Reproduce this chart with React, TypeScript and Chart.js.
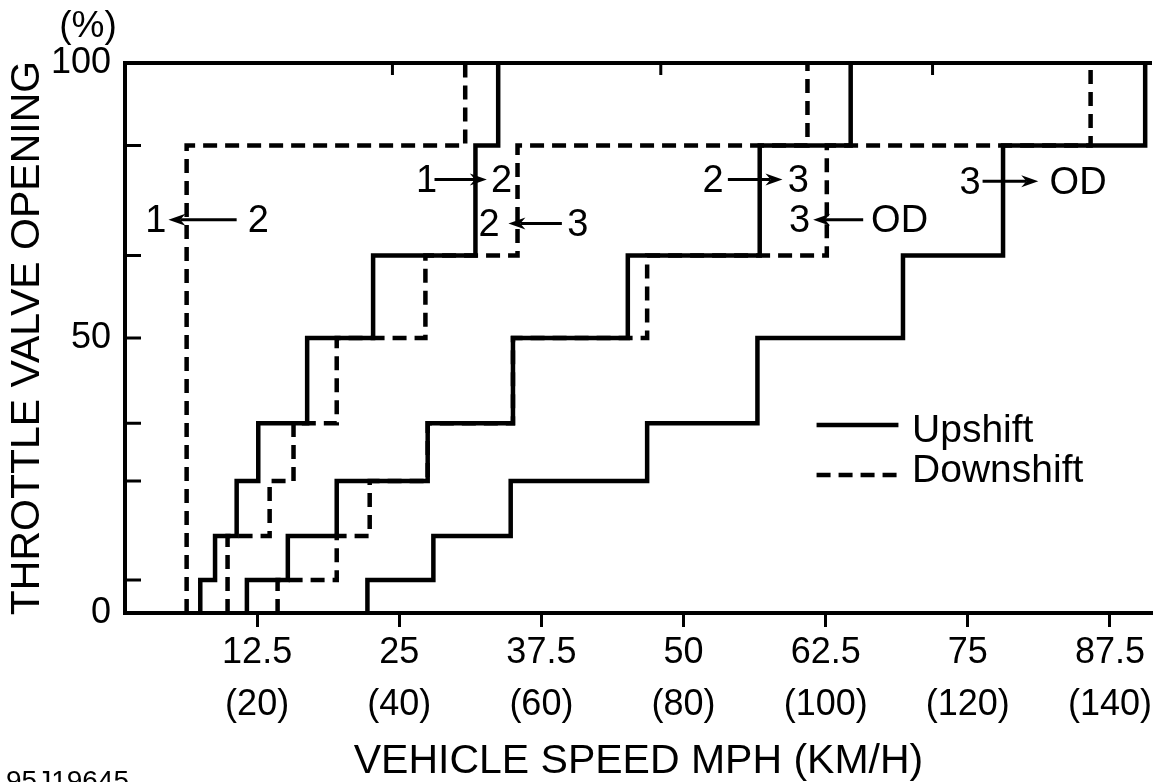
import React, { useEffect, useRef } from "react";
import { Chart, registerables } from "chart.js";

Chart.register(...registerables);

// ---- axis data ----
const speedTicks = [12.5, 25, 37.5, 50, 62.5, 75, 87.5];
const kmhTicks = [20, 40, 60, 80, 100, 120, 140];
const throttleTicks = [0, 50, 100];
const throttleMarks = [6, 24, 34.5, 50, 65, 85];
const topSpeedMarks = [24.4, 48, 71.9];

// ---- shift curves: vertical step at speeds[i] between levels[i] and levels[i+1] ----
const up12Speeds = [7.5, 8.8, 10.7, 12.6, 16.9, 22.7, 31.7, 33.7];
const up12Levels = [0, 6, 14, 24, 34.5, 50, 65, 85, 100];

const down21Speeds = [6.3, 30.8];
const down21Levels = [0, 85, 100];

const up23Speeds = [11.6, 15.2, 19.5, 27.5, 35.0, 45.1, 56.7, 64.7];
const up23Levels = [0, 6, 14, 24, 34.5, 50, 65, 85, 100];

const down32Speeds = [9.9, 13.6, 15.7, 19.5, 27.3, 35.4, 60.9];
const down32Levels = [0, 14, 24, 34.5, 50, 65, 85, 100];

const up3odSpeeds = [22.2, 28.0, 34.8, 46.8, 56.5, 69.3, 78.1, 90.6];
const up3odLevels = [0, 6, 14, 24, 34.5, 50, 65, 85, 100];

const downOd3Speeds = [14.3, 19.5, 22.4, 27.5, 35.0, 46.8, 62.6, 85.8];
const downOd3Levels = [0, 6, 14, 24, 34.5, 50, 65, 85, 100];

// ---- shift annotations (speed, throttle) ----
const shiftLabels = [
  { left: "1", right: "2", leftX: 3.6, rightX: 12.6, tailX: 10.7, tipX: 4.7, y: 71.5 },
  { left: "1", right: "2", leftX: 27.4, rightX: 34.0, tailX: 28.1, tipX: 32.7, y: 78.8 },
  { left: "2", right: "3", leftX: 32.9, rightX: 40.7, tailX: 39.3, tipX: 34.6, y: 70.8 },
  { left: "2", right: "3", leftX: 52.6, rightX: 60.1, tailX: 53.9, tipX: 58.7, y: 78.8 },
  { left: "3", right: "OD", leftX: 60.2, rightX: 69.0, tailX: 65.8, tipX: 61.4, y: 71.5 },
  { left: "3", right: "OD", leftX: 75.2, rightX: 84.7, tailX: 76.3, tipX: 81.2, y: 78.5 },
];

const legendItems = [
  { label: "Upshift", dash: [] as number[], lineY: 34.2, textY: 33.1 },
  { label: "Downshift", dash: [14, 8], lineY: 25.1, textY: 25.8 },
];
const legendLineX = [61.7, 68.9];
const legendTextX = 70.1;

const FONT = "'Liberation Sans', Arial, Helvetica, sans-serif";
const SOLID: number[] = [];
const DASH = [14, 8];

function stepPoints(speeds: number[], levels: number[]) {
  const pts: { x: number; y: number }[] = [];
  speeds.forEach((s, i) => {
    pts.push({ x: s, y: levels[i] });
    pts.push({ x: s, y: levels[i + 1] });
  });
  return pts;
}

function drawArrow(ctx: CanvasRenderingContext2D, x1: number, x2: number, y: number) {
  const dir = Math.sign(x2 - x1);
  const head = 17;
  const hw = 6;
  ctx.beginPath();
  ctx.moveTo(x1, y);
  ctx.lineTo(x2 - dir * head * 0.7, y);
  ctx.lineWidth = 3;
  ctx.setLineDash([]);
  ctx.stroke();
  ctx.beginPath();
  ctx.moveTo(x2, y);
  ctx.lineTo(x2 - dir * head, y - hw);
  ctx.lineTo(x2 - dir * head * 0.7, y);
  ctx.lineTo(x2 - dir * head, y + hw);
  ctx.closePath();
  ctx.fill();
}

const decorPlugin = {
  id: "decor",
  afterDraw(chart: any) {
    const { ctx, chartArea } = chart;
    const xs = chart.scales.x;
    const ys = chart.scales.y;
    ctx.save();
    ctx.strokeStyle = "#000";
    ctx.fillStyle = "#000";
    ctx.lineCap = "butt";

    // top frame line at 100 %
    const yTop = ys.getPixelForValue(100);
    ctx.lineWidth = 4;
    ctx.beginPath();
    ctx.moveTo(chartArea.left - 2, yTop);
    ctx.lineTo(chartArea.right, yTop);
    ctx.stroke();

    // inner ticks on the throttle axis
    ctx.lineWidth = 3;
    throttleMarks.forEach((v) => {
      const y = ys.getPixelForValue(v);
      ctx.beginPath();
      ctx.moveTo(chartArea.left, y);
      ctx.lineTo(chartArea.left + 16, y);
      ctx.stroke();
    });
    // inner ticks on the top edge
    topSpeedMarks.forEach((v) => {
      const x = xs.getPixelForValue(v);
      ctx.beginPath();
      ctx.moveTo(x, yTop);
      ctx.lineTo(x, yTop + 12);
      ctx.stroke();
    });

    // shift annotations
    ctx.font = `38px ${FONT}`;
    ctx.textBaseline = "middle";
    ctx.textAlign = "center";
    shiftLabels.forEach((a) => {
      const y = ys.getPixelForValue(a.y);
      ctx.fillText(a.left, xs.getPixelForValue(a.leftX), y + 2);
      ctx.fillText(a.right, xs.getPixelForValue(a.rightX), y + 2);
      drawArrow(ctx, xs.getPixelForValue(a.tailX), xs.getPixelForValue(a.tipX), y);
    });

    // legend
    legendItems.forEach((it) => {
      const ly = ys.getPixelForValue(it.lineY);
      ctx.lineWidth = 4.5;
      ctx.setLineDash(it.dash);
      ctx.beginPath();
      ctx.moveTo(xs.getPixelForValue(legendLineX[0]), ly);
      ctx.lineTo(xs.getPixelForValue(legendLineX[1]), ly);
      ctx.stroke();
      ctx.setLineDash([]);
      ctx.font = `39px ${FONT}`;
      ctx.textAlign = "left";
      ctx.fillText(it.label, xs.getPixelForValue(legendTextX), ys.getPixelForValue(it.textY));
    });

    // unit label above the throttle axis
    ctx.font = `37px ${FONT}`;
    ctx.textAlign = "center";
    ctx.fillText("(%)", chartArea.left - 37, chartArea.top - 36);

    // figure code
    ctx.font = `28px ${FONT}`;
    ctx.textAlign = "left";
    ctx.textBaseline = "top";
    ctx.fillText("95J19645", 6, chart.height - 14);

    ctx.restore();
  },
};

export default function App() {
  const canvasRef = useRef<HTMLCanvasElement | null>(null);

  useEffect(() => {
    if (!canvasRef.current) return;
    const mk = (label: string, speeds: number[], levels: number[], dash: number[]) => ({
      label,
      data: stepPoints(speeds, levels),
      borderColor: "#000",
      backgroundColor: "#000",
      borderWidth: 4.5,
      borderDash: dash,
      borderJoinStyle: "miter" as const,
      pointRadius: 0,
      tension: 0,
      fill: false,
    });

    const chart = new Chart(canvasRef.current, {
      type: "line",
      data: {
        datasets: [
          mk("1→2 Upshift", up12Speeds, up12Levels, SOLID),
          mk("2→1 Downshift", down21Speeds, down21Levels, DASH),
          mk("2→3 Upshift", up23Speeds, up23Levels, SOLID),
          mk("3→2 Downshift", down32Speeds, down32Levels, DASH),
          mk("3→OD Upshift", up3odSpeeds, up3odLevels, SOLID),
          mk("OD→3 Downshift", downOd3Speeds, downOd3Levels, DASH),
        ],
      },
      options: {
        responsive: false,
        animation: false,
        layout: { padding: { top: 63, right: 8, left: 0, bottom: 0 } },
        plugins: {
          legend: { display: false },
          tooltip: { enabled: false },
        },
        scales: {
          x: {
            type: "linear",
            min: 0.88,
            max: 91.2,
            afterBuildTicks: (s: any) => {
              s.ticks = speedTicks.map((v) => ({ value: v }));
            },
            afterFit: (s: any) => {
              s.height = 169;
            },
            ticks: {
              autoSkip: false,
              maxRotation: 0,
              padding: 0,
              color: "#000",
              font: { family: FONT, size: 36, lineHeight: 1.45 },
              callback: (_v: any, i: number) => [String(speedTicks[i]), `(${kmhTicks[i]})`],
            },
            grid: {
              drawOnChartArea: false,
              drawTicks: true,
              tickLength: 14,
              tickWidth: 3,
              tickColor: "#000",
            },
            border: { display: true, width: 4, color: "#000" },
            title: {
              display: true,
              text: "VEHICLE SPEED MPH (KM/H)",
              color: "#000",
              font: { family: FONT, size: 41, lineHeight: 1 },
              padding: { top: 0, bottom: 0 },
            },
          },
          y: {
            type: "linear",
            min: 0,
            max: 100,
            afterBuildTicks: (s: any) => {
              s.ticks = throttleTicks.map((v) => ({ value: v }));
            },
            afterFit: (s: any) => {
              s.width = 125;
            },
            ticks: {
              padding: 14,
              color: "#000",
              font: { family: FONT, size: 36 },
            },
            grid: { display: false, drawTicks: false },
            border: { display: true, width: 4, color: "#000" },
            title: {
              display: true,
              text: "THROTTLE VALVE OPENING",
              color: "#000",
              font: { family: FONT, size: 41, lineHeight: 1 },
              padding: { top: 7, bottom: 0 },
            },
          },
        },
      },
      plugins: [decorPlugin],
    } as any);

    return () => chart.destroy();
  }, []);

  return (
    <div style={{ position: "fixed", left: 0, top: 0, width: 1160, height: 782, background: "#fff" }}>
      <canvas ref={canvasRef} width={1160} height={782} style={{ width: 1160, height: 782, display: "block" }} />
    </div>
  );
}
